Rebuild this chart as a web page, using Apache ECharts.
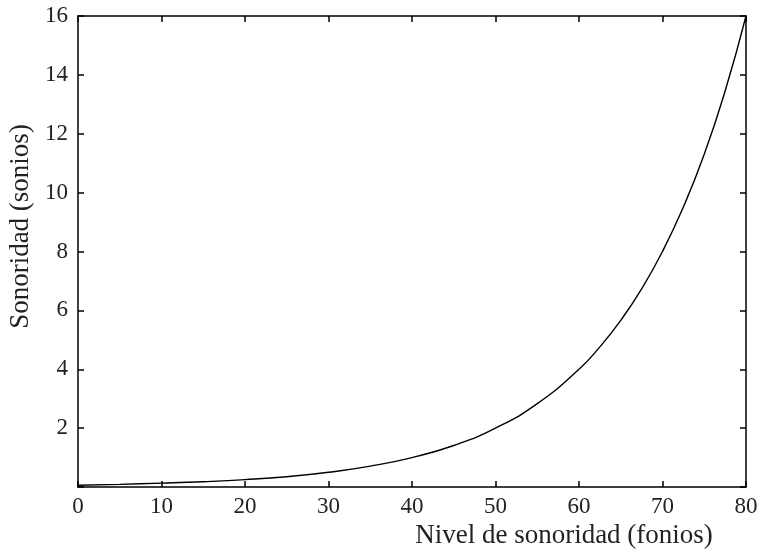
<!DOCTYPE html>
<html>
<head>
<meta charset="utf-8">
<script src="https://cdn.jsdelivr.net/npm/echarts@6/dist/echarts.min.js"></script>
<style>
  html, body { margin: 0; padding: 0; background: #fff; }
  #chart { width: 761px; height: 552px; }
</style>
</head>
<body>
<div id="chart"></div>
<script>
// nivel de sonoridad (fonios) y sonoridad (sonios)
const fonios = [0, 5, 10, 15, 20, 25, 30, 35, 40, 45, 50, 55, 60, 62.5, 65, 67.5, 70, 72.5, 75, 77.5, 80];
const sonios = [0.06, 0.09, 0.13, 0.18, 0.25, 0.35, 0.5, 0.71, 1, 1.41, 2, 2.83, 4, 4.76, 5.66, 6.73, 8, 9.51, 11.3, 13.45, 16];
const xTicks = [0, 10, 20, 30, 40, 50, 60, 70, 80];
const yTicks = [2, 4, 6, 8, 10, 12, 14, 16];

const chart = echarts.init(document.getElementById('chart'));
const font = 'Liberation Serif';
const tick = { show: true, inside: true, length: 6, lineStyle: { color: '#000', width: 1.5 } };
const line = { show: true, onZero: false, lineStyle: { color: '#000', width: 1.5 } };

const option = {
  animation: false,
  grid: { left: 78, right: 15, top: 16, bottom: 65, containLabel: false, outerBoundsMode: 'none' },
  xAxis: [{
    type: 'value', min: 0, max: 80, interval: 10,
    name: 'Nivel de sonoridad (fonios)',
    nameLocation: 'middle', nameGap: 31,
    nameTextStyle: { fontFamily: font, fontSize: 27, color: '#222', verticalAlign: 'top', padding: [0, 0, 0, 304] },
    axisLine: line, axisTick: tick,
    axisLabel: {
      fontFamily: font, fontSize: 23, color: '#222', margin: 8,
      formatter: v => (xTicks.indexOf(v) >= 0 ? String(v) : '')
    },
    splitLine: { show: false }
  }, {
    type: 'value', position: 'top', min: 0, max: 80, interval: 10,
    axisLine: line, axisTick: tick, axisLabel: { show: false }, splitLine: { show: false }
  }],
  yAxis: [{
    type: 'value', min: 0, max: 16, interval: 2,
    name: 'Sonoridad (sonios)',
    nameLocation: 'middle', nameGap: 41, nameRotate: 90,
    nameTextStyle: { fontFamily: font, fontSize: 27, color: '#222', padding: [0, 0, 0, 50] },
    axisLine: line, axisTick: tick,
    axisLabel: {
      fontFamily: font, fontSize: 23, color: '#222', margin: 10,
      formatter: v => (yTicks.indexOf(v) >= 0 ? String(v) : '')
    },
    splitLine: { show: false }
  }, {
    type: 'value', position: 'right', min: 0, max: 16, interval: 2,
    axisLine: line, axisTick: tick, axisLabel: { show: false }, splitLine: { show: false }
  }],
  series: [{
    type: 'line',
    data: fonios.map((f, i) => [f, sonios[i]]),
    smooth: true,
    showSymbol: false,
    lineStyle: { color: '#000', width: 1.4 }
  }]
};
chart.setOption(option);
</script>
</body>
</html>
